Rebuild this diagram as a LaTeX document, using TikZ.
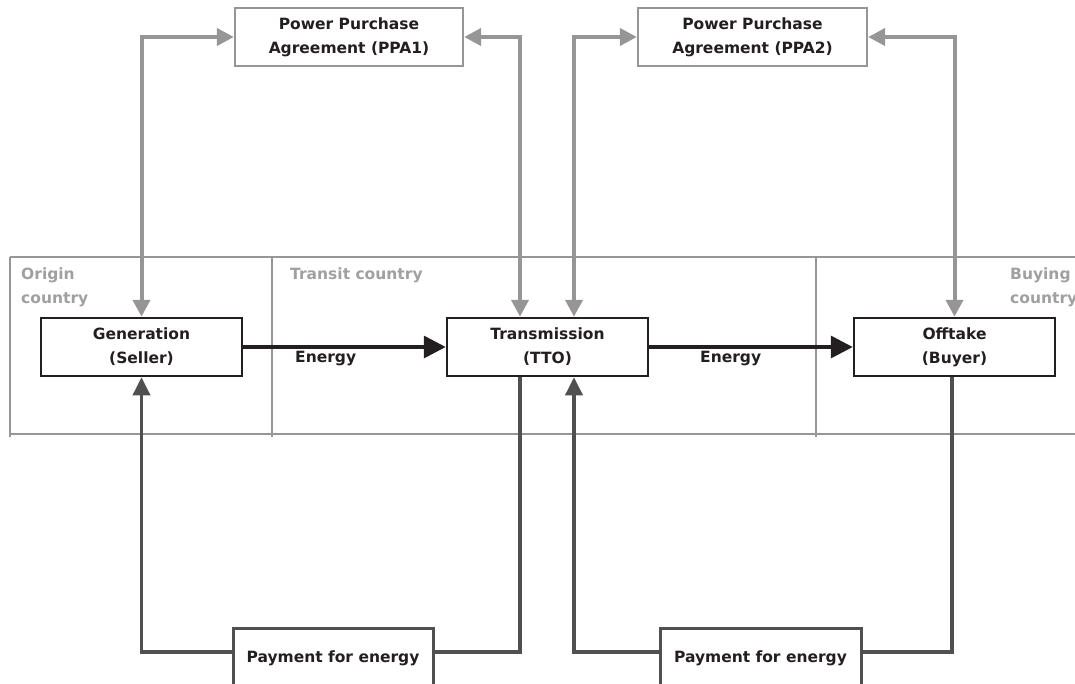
\documentclass[tikz,border=0pt]{standalone}
\usepackage{fontspec}
\setmainfont{DejaVu Sans}
\usetikzlibrary{arrows.meta,calc}
\definecolor{ink}{RGB}{35,31,32}
\definecolor{ppagray}{RGB}{150,150,150}
\definecolor{framegray}{RGB}{150,150,150}
\definecolor{lblgray}{RGB}{160,160,160}
\definecolor{paygray}{RGB}{80,80,80}
\tikzset{
  mainbox/.style={draw=ink, line width=2.5pt, align=center, inner sep=0pt, text=ink},
  ppabox/.style={draw=ppagray, line width=2.3pt, align=center, inner sep=0pt, text=ink, fill=white},
  paybox/.style={draw=paygray, line width=3pt, inner sep=0pt, text=ink},
  frameline/.style={draw=framegray, line width=2pt},
  lbl/.style={text=lblgray, align=left, inner sep=0pt},
  ppaarrow/.style={draw=ppagray, line width=4pt,
     {Triangle[length=17pt,width=17pt]}-{Triangle[length=17pt,width=17pt]}},
  payarrow/.style={draw=paygray, line width=3.6pt},
  paytip/.style={-{Triangle[length=18pt,width=17pt]}},
  energyarrow/.style={draw=ink, line width=3.6pt, -{Triangle[length=22pt,width=22pt]}},
  elabel/.style={text=ink, inner sep=0pt, anchor=north west},
}
\begin{document}
\begin{tikzpicture}[x=1pt,y=-1pt, font=\bfseries\fontsize{15.5}{24}\selectfont]
\useasboundingbox (0,0) rectangle (1075,683);

% country band
\draw[frameline] (10,257) -- (1075,257);
\draw[frameline] (10,434) -- (1075,434);
\draw[frameline] (10,257) -- (10,437);
\draw[frameline] (272,257) -- (272,437);
\draw[frameline] (816,257) -- (816,437);
\node[lbl, anchor=north west] (orig) at (21,268) {Origin\\country};
\node[lbl, anchor=north west] (trans) at (290,268) {Transit country};
\node[lbl, anchor=north west] (buy) at (1010,268) {Buying\\country};

% main boxes
\node[mainbox, minimum width=201, minimum height=58] (gen) at (141.5,347) {Generation\\(Seller)};
\node[mainbox, minimum width=201, minimum height=58] (tr) at (547.5,347) {Transmission\\(TTO)};
\node[mainbox, minimum width=201, minimum height=58] (off) at (954.5,347) {Offtake\\(Buyer)};

% PPA boxes
\node[ppabox, minimum width=228, minimum height=58] (ppa1) at (349,37) {Power Purchase\\Agreement (PPA1)};
\node[ppabox, minimum width=229, minimum height=58] (ppa2) at (752.5,37) {Power Purchase\\Agreement (PPA2)};

% payment boxes (cut off at the bottom of the picture)
\node[paybox, minimum width=200, minimum height=60] (pay1) at (333,658) {Payment for energy};
\node[paybox, minimum width=201, minimum height=60] (pay2) at (760.5,658) {Payment for energy};

% PPA arrows
\draw[ppaarrow] (gen.north) |- (ppa1.west);
\draw[ppaarrow] (ppa1.east) -| ([xshift=-27.5pt]tr.north);
\draw[ppaarrow] (ppa2.west) -| ([xshift=26.5pt]tr.north);
\draw[ppaarrow] (ppa2.east) -| (off.north);

% energy arrows
\draw[energyarrow] (gen.east) -- (tr.west);
\draw[energyarrow] (tr.east) -- (off.west);
\node[elabel] (e1) at (295,351) {Energy};
\node[elabel] (e2) at (700,351) {Energy};

% payment lines
\draw[payarrow] ([xshift=-27.5pt]tr.south) |- ([yshift=6pt]pay1.east);
\draw[payarrow, paytip] ([yshift=6pt]pay1.west) -| (gen.south);
\draw[payarrow] ([xshift=-2.5pt]off.south) |- ([yshift=6pt]pay2.east);
\draw[payarrow, paytip] ([yshift=6pt]pay2.west) -| ([xshift=26.5pt]tr.south);
\end{tikzpicture}
\end{document}
